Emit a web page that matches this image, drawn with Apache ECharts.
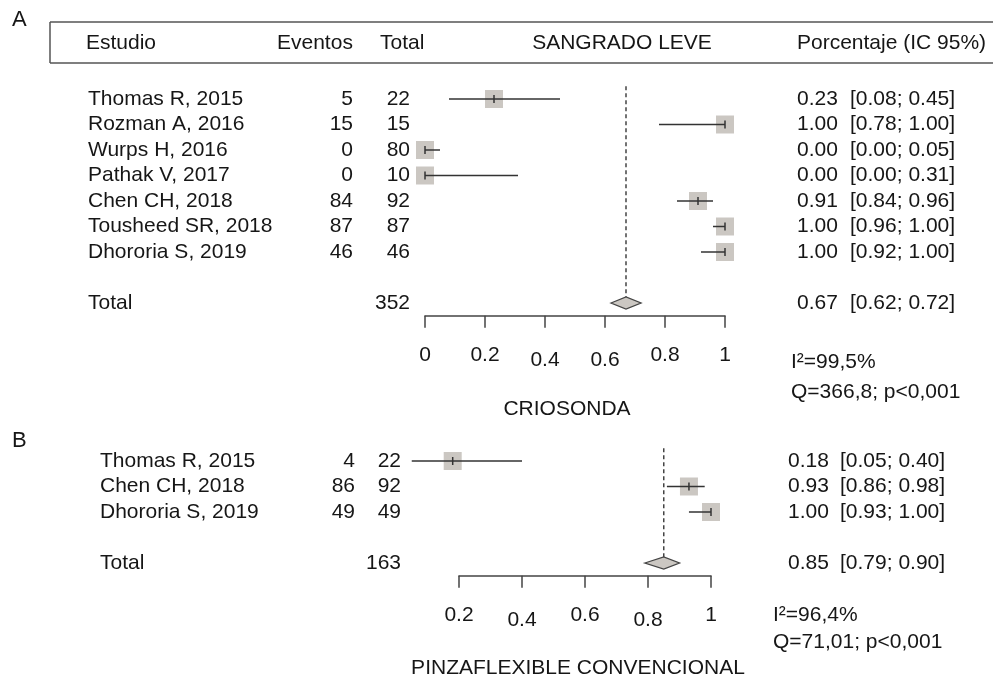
<!DOCTYPE html>
<html><head><meta charset="utf-8">
<script src="https://cdn.jsdelivr.net/npm/echarts@6/dist/echarts.min.js"></script>
<style>html,body{margin:0;padding:0;background:#fff}#c{width:993px;height:681px}</style>
</head><body><div id="c"></div>
<script>
// ---- Panel A: CRIOSONDA ----
const studiesA = ['Thomas R, 2015','Rozman A, 2016','Wurps H, 2016','Pathak V, 2017','Chen CH, 2018','Tousheed SR, 2018','Dhororia S, 2019'];
const eventsA = [5, 15, 0, 0, 84, 87, 46];
const totalsA = [22, 15, 80, 10, 92, 87, 46];
const estA  = [0.23, 1.00, 0.00, 0.00, 0.91, 1.00, 1.00];
const lowA  = [0.08, 0.78, 0.00, 0.00, 0.84, 0.96, 0.92];
const highA = [0.45, 1.00, 0.05, 0.31, 0.96, 1.00, 1.00];
const pooledA = [0.67, 0.62, 0.72];
const pooledNA = 352;
const hetA = ['I²=99,5%', 'Q=366,8; p<0,001'];
const titleA = 'CRIOSONDA';

// ---- Panel B: PINZAFLEXIBLE CONVENCIONAL ----
const studiesB = ['Thomas R, 2015','Chen CH, 2018','Dhororia S, 2019'];
const eventsB = [4, 86, 49];
const totalsB = [22, 92, 49];
const estB  = [0.18, 0.93, 1.00];
const lowB  = [0.05, 0.86, 0.93];
const highB = [0.40, 0.98, 1.00];
const pooledB = [0.85, 0.79, 0.90];
const pooledNB = 163;
const hetB = ['I²=96,4%', 'Q=71,01; p<0,001'];
const titleB = 'PINZAFLEXIBLE CONVENCIONAL';

const headers = ['Estudio', 'Eventos', 'Total', 'SANGRADO LEVE', 'Porcentaje (IC 95%)'];

const FF = '"Liberation Sans", Arial, Helvetica, sans-serif';
const FONT = '21px ' + FF;
const TXT = '#161616';
const AX = '#444';
const BOX = '#cbc7c2';

function rowsOf(est, low, high) {
  return est.map((e, i) => [i + 1, e, low[i], high[i], i]);
}

function makeRender(cfg) {
  return function (params, api) {
    const row = api.value(0), est = api.value(1), lo = api.value(2), hi = api.value(3), idx = api.value(4);
    const pE = api.coord([est, row]);
    const pL = api.coord([lo, row]);
    const pH = api.coord([hi, row]);
    const y = pE[1];
    const ch = [];
    const txt = (t, x, align) => ({
      type: 'text', x: x, y: y,
      style: { text: String(t), fill: TXT, font: FONT, align: align, verticalAlign: 'middle' }
    });
    if (idx >= 0) {
      ch.push(txt(cfg.names[idx], cfg.nameX, 'left'));
      ch.push(txt(cfg.events[idx], cfg.evX, 'right'));
      ch.push(txt(cfg.totals[idx], cfg.totX, 'right'));
      ch.push({ type: 'rect', shape: { x: pE[0] - 9, y: y - 9, width: 18, height: 18 }, style: { fill: BOX } });
      ch.push({ type: 'line', shape: { x1: pL[0], y1: y, x2: pH[0], y2: y }, style: { stroke: '#333', lineWidth: 1.5 } });
      ch.push({ type: 'line', shape: { x1: pE[0], y1: y - 4, x2: pE[0], y2: y + 4 }, style: { stroke: '#333', lineWidth: 1.5 } });
    } else {
      const h = 6;
      const top = api.coord([est, 0.5]);
      ch.push({ type: 'line', shape: { x1: pE[0], y1: top[1], x2: pE[0], y2: y - h }, style: { stroke: AX, lineWidth: 1.5, lineDash: [4, 3] } });
      ch.push(txt('Total', cfg.nameX, 'left'));
      ch.push(txt(cfg.pooledN, cfg.totX, 'right'));
      ch.push({ type: 'polygon', shape: { points: [[pL[0], y], [pE[0], y - h], [pH[0], y], [pE[0], y + h]] }, style: { fill: BOX, stroke: AX, lineWidth: 1.3 } });
    }
    ch.push(txt(est.toFixed(2), cfg.estX, 'left'));
    ch.push(txt('[' + lo.toFixed(2) + '; ' + hi.toFixed(2) + ']', cfg.ciX, 'left'));
    return { type: 'group', children: ch };
  };
}

const dataA = rowsOf(estA, lowA, highA).concat([[studiesA.length + 2, pooledA[0], pooledA[1], pooledA[2], -1]]);
const dataB = rowsOf(estB, lowB, highB).concat([[studiesB.length + 2, pooledB[0], pooledB[1], pooledB[2], -1]]);

function xAxisCfg(grid, min, lowered) {
  return {
    gridIndex: grid, type: 'value', min: min, max: 1, interval: 0.2, position: 'bottom',
    axisLine: { show: true, onZero: false, lineStyle: { color: AX, width: 1.5 } },
    axisTick: { show: true, length: 12, lineStyle: { color: AX, width: 1.5 } },
    splitLine: { show: false },
    axisLabel: {
      margin: 29, color: TXT, fontSize: 21, fontFamily: FF,
      formatter: v => {
        const s = String(+v.toFixed(1));
        return (lowered.indexOf(s) >= 0 ? '{l|' : '{n|') + s + '}';
      },
      rich: {
        n: { fontSize: 21, fontFamily: FF, color: TXT, padding: [0, 0, 0, 0] },
        l: { fontSize: 21, fontFamily: FF, color: TXT, padding: [5, 0, 0, 0] }
      }
    }
  };
}

const gtext = (t, x, y, align, size) => ({
  type: 'text', x: x, y: y,
  style: { text: t, fill: TXT, font: (size || 21) + 'px ' + FF, align: align || 'left', verticalAlign: 'middle' }
});
const gline = (x1, y1, x2, y2) => ({
  type: 'line', shape: { x1, y1, x2, y2 }, style: { stroke: '#555', lineWidth: 1.5 }
});

const chart = echarts.init(document.getElementById('c'));
chart.setOption({
  backgroundColor: '#fff',
  animation: false,
  grid: [
    { left: 425, top: 86.25, width: 300, height: 229.5 },
    { left: 459, top: 448.25, width: 252, height: 127.5 }
  ],
  xAxis: [xAxisCfg(0, 0, ['0.4', '0.6']), xAxisCfg(1, 0.2, ['0.4', '0.8'])],
  yAxis: [
    { gridIndex: 0, type: 'value', min: 0.5, max: 9.5, inverse: true, show: false },
    { gridIndex: 1, type: 'value', min: 0.5, max: 5.5, inverse: true, show: false }
  ],
  series: [
    {
      type: 'custom', xAxisIndex: 0, yAxisIndex: 0, clip: false, data: dataA,
      renderItem: makeRender({ names: studiesA, events: eventsA, totals: totalsA, pooledN: pooledNA,
        nameX: 88, evX: 353, totX: 410, estX: 797, ciX: 850 })
    },
    {
      type: 'custom', xAxisIndex: 1, yAxisIndex: 1, clip: false, data: dataB,
      renderItem: makeRender({ names: studiesB, events: eventsB, totals: totalsB, pooledN: pooledNB,
        nameX: 100, evX: 355, totX: 401, estX: 788, ciX: 840 })
    }
  ],
  graphic: [
    gtext('A', 12, 20, 'left', 22),
    gtext('B', 12, 441, 'left', 22),
    gline(50, 22, 993, 22),
    gline(50, 63, 993, 63),
    gline(50, 22, 50, 63),
    gtext(headers[0], 86, 43, 'left'),
    gtext(headers[1], 277, 43, 'left'),
    gtext(headers[2], 380, 43, 'left'),
    gtext(headers[3], 622, 43, 'center'),
    gtext(headers[4], 797, 43, 'left'),
    gtext(hetA[0], 791, 362, 'left'),
    gtext(hetA[1], 791, 392, 'left'),
    gtext(titleA, 567, 409, 'center'),
    gtext(hetB[0], 773, 615, 'left'),
    gtext(hetB[1], 773, 642, 'left'),
    gtext(titleB, 578, 668, 'center')
  ]
});
</script>
</body></html>
